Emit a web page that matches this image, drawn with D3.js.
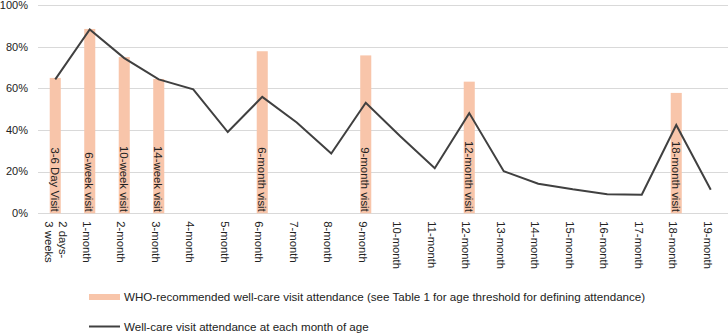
<!DOCTYPE html>
<html>
<head>
<meta charset="utf-8">
<script src="https://cdn.jsdelivr.net/npm/d3@7"></script>
<style>
  body { margin: 0; background: #fff; }
  text { font-family: "Liberation Sans", Arial, sans-serif; fill: #222; }
</style>
</head>
<body>
<div id="chart"></div>
<script>
// age categories along the x axis
var ages = ["2 days-|3 weeks", "1-month", "2-month", "3-month", "4-month", "5-month", "6-month",
  "7-month", "8-month", "9-month", "10-month", "11-month", "12-month", "13-month", "14-month",
  "15-month", "16-month", "17-month", "18-month", "19-month"];

// WHO-recommended visits (bars)
var visitAges = ["2 days-|3 weeks", "1-month", "2-month", "3-month", "6-month", "9-month", "12-month", "18-month"];
var visitNames = ["3-6 Day Visit", "6-week visit", "10-week visit", "14-week visit", "6-month visit", "9-month visit", "12-month visit", "18-month visit"];
var visitValues = [65, 88.5, 75, 64.5, 77.8, 75.8, 63.2, 57.8];

// attendance at each month of age (line)
var monthValues = [64.3, 88.3, 74.5, 64.3, 59.5, 39, 55.9, 43.6, 28.7, 53.1, 37, 21.6, 48.1,
  20.2, 14.2, 11.5, 9.2, 8.9, 42.4, 11.3];

var yTicks = [0, 20, 40, 60, 80, 100];

var legendLabels = ["WHO-recommended well-care visit attendance (see Table 1 for age threshold for defining attendance)",
  "Well-care visit attendance at each month of age"];

var WIDTH = 728, HEIGHT = 333;
var MARGIN = { LEFT: 38, RIGHT: 0, TOP: 5, BOTTOM: 119 };

var svg = d3.select("#chart")
  .append("svg")
  .attr("width", WIDTH)
  .attr("height", HEIGHT);

var x = d3.scaleBand()
  .domain(ages)
  .range([MARGIN.LEFT, WIDTH - MARGIN.RIGHT])
  .paddingInner(0.68)
  .paddingOuter(0.34);

var xc = function(d) { return x(d) + x.bandwidth() / 2; };

var y = d3.scaleLinear()
  .domain([0, 100])
  .range([HEIGHT - MARGIN.BOTTOM - 0.7, MARGIN.TOP]);

// gridlines
svg.append("g")
  .selectAll("line")
  .data(yTicks)
  .enter()
  .append("line")
  .attr("x1", MARGIN.LEFT)
  .attr("x2", WIDTH)
  .attr("y1", function(d) { return Math.round(y(d)) + 0.5; })
  .attr("y2", function(d) { return Math.round(y(d)) + 0.5; })
  .attr("stroke", "#d9d9d9")
  .attr("stroke-width", 1);

// y axis labels
svg.append("g")
  .selectAll("text")
  .data(yTicks)
  .enter()
  .append("text")
  .attr("x", 28)
  .attr("y", function(d) { return y(d); })
  .attr("dy", "0.35em")
  .attr("text-anchor", "end")
  .style("font-size", "11px")
  .text(function(d) { return d + "%"; });

// bars
svg.append("g")
  .selectAll("rect")
  .data(visitValues)
  .enter()
  .append("rect")
  .attr("x", function(d, i) { return x(visitAges[i]); })
  .attr("width", x.bandwidth())
  .attr("y", function(d) { return y(d); })
  .attr("height", function(d) { return y(0) - y(d); })
  .attr("fill", "#f8c5aa");

// line
var line = d3.line()
  .x(function(d, i) { return xc(ages[i]); })
  .y(function(d) { return y(d); });

svg.append("path")
  .datum(monthValues)
  .attr("d", line)
  .attr("fill", "none")
  .attr("stroke", "#404040")
  .attr("stroke-width", 2);

// bar labels, rotated inside bars
svg.append("g")
  .selectAll("text")
  .data(visitNames)
  .enter()
  .append("text")
  .attr("transform", function(d, i) {
    return "translate(" + (xc(visitAges[i]) - 4.5) + "," + (y(0) - 1.5) + ") rotate(90)";
  })
  .attr("text-anchor", "end")
  .style("font-size", "11.4px")
  .text(function(d) { return d; });

// x axis labels
var xl = svg.append("g")
  .selectAll("text")
  .data(ages)
  .enter()
  .append("text")
  .attr("transform", function(d) {
    return "translate(" + xc(d) + "," + (y(0) + 8) + ") rotate(90)";
  })
  .style("font-size", "11.3px");

xl.each(function(d) {
  var parts = d.split("|");
  var t = d3.select(this);
  if (parts.length === 1) {
    t.append("tspan").attr("x", 0).attr("y", 7).text(parts[0]);
  } else {
    t.append("tspan").attr("x", 0).attr("y", -4).text(parts[0]);
    t.append("tspan").attr("x", 0).attr("y", 10.5).text(parts[1]);
  }
});

// legend
var legend = svg.append("g");
legend.append("rect")
  .attr("x", 89).attr("y", 294)
  .attr("width", 31).attr("height", 6)
  .attr("fill", "#f8c5aa");
legend.append("line")
  .attr("x1", 89).attr("x2", 120)
  .attr("y1", 326.5).attr("y2", 326.5)
  .attr("stroke", "#404040")
  .attr("stroke-width", 2);
legend.selectAll("text")
  .data(legendLabels)
  .enter()
  .append("text")
  .attr("x", 124)
  .attr("y", function(d, i) { return i === 0 ? 297 : 327; })
  .attr("dy", "0.35em")
  .style("font-size", "11.6px")
  .text(function(d) { return d; });
</script>
</body>
</html>
